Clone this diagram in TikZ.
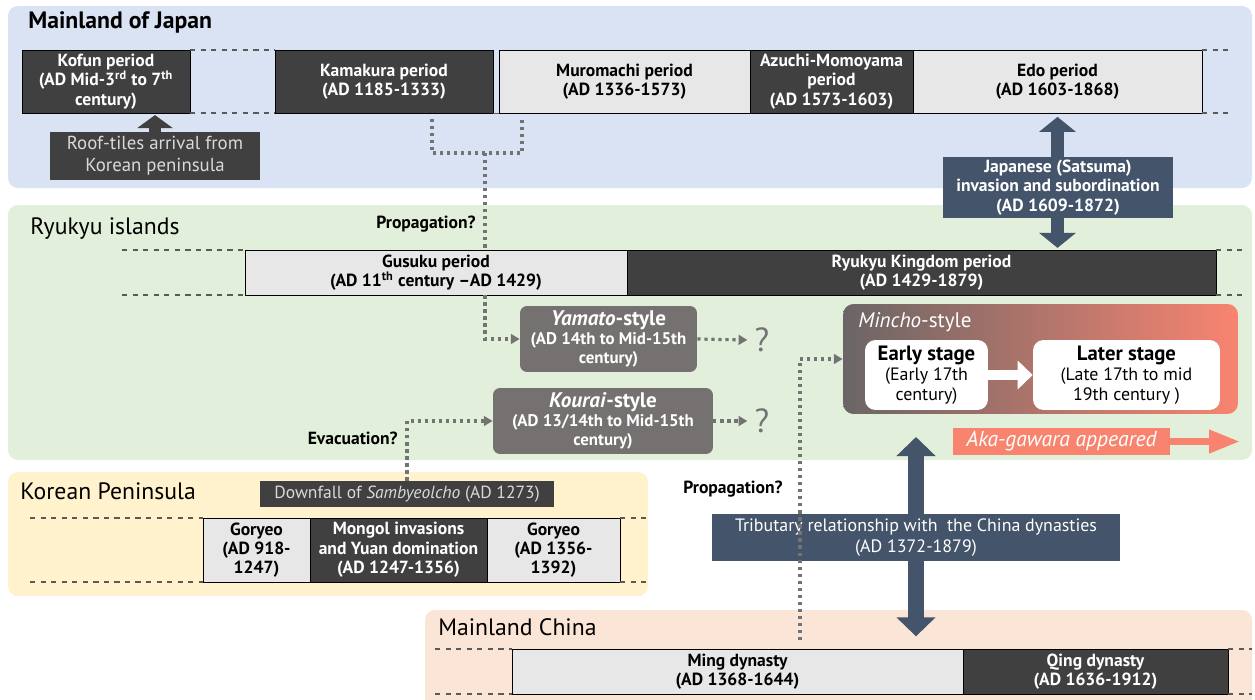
\documentclass[tikz,border=0pt]{standalone}
\usepackage{fontspec}
\setmainfont{PT Sans}
\usetikzlibrary{positioning, arrows.meta, calc}
\definecolor{JapanBg}{RGB}{218,227,243}
\definecolor{RyukyuBg}{RGB}{226,239,218}
\definecolor{KoreaBg}{RGB}{255,242,204}
\definecolor{ChinaBg}{RGB}{251,229,214}
\definecolor{DarkFill}{RGB}{64,64,64}
\definecolor{LightFill}{RGB}{231,231,231}
\definecolor{TileGray}{RGB}{118,113,113}
\definecolor{Salmon}{RGB}{248,132,112}
\definecolor{Navy}{RGB}{68,84,106}
\definecolor{DotGray}{RGB}{115,115,115}
\definecolor{DashGray}{RGB}{90,90,90}

\begin{document}
\begin{tikzpicture}[x=0.02cm,y=-0.02cm,
    span/.style n args={4}{at={({(#1+#3)/2},{(#2+#4)/2})},
      minimum width={(#3-#1)*0.569055pt}, minimum height={(#4-#2)*0.569055pt}},
    panel/.style={rounded corners=0.2cm, draw=none},
    region/.style={anchor=west, inner sep=0pt, font=\fontsize{13.5}{15}\selectfont},
    darkper/.style={draw=black, fill=DarkFill, text=white, align=center, inner sep=0pt,
      font=\bfseries\fontsize{10}{11}\selectfont},
    lightper/.style={darkper, fill=LightFill, text=black},
    notebox/.style={fill=DarkFill, text=black!15, align=center, inner sep=0pt},
    tilebox/.style={rounded corners=4pt, fill=TileGray, text=white, align=center, inner sep=0pt,
      font=\bfseries\fontsize{9.6}{11}\selectfont},
    stagebox/.style={rounded corners=6pt, fill=white, align=center, inner sep=0pt,
      font=\fontsize{10.2}{11.5}\selectfont},
    navybox/.style={fill=Navy, text=white, align=center, inner sep=0pt,
      font=\bfseries\fontsize{10}{11.2}\selectfont},
    guess/.style={inner sep=0pt, font=\bfseries\fontsize{10}{12}\selectfont},
    qmark/.style={inner sep=0pt, text=DotGray, font=\fontsize{19}{21}\selectfont},
    dashline/.style={DashGray, dashed, line width=0.7pt},
    dotline/.style={DotGray, line width=1.8pt, dash pattern=on 1.8pt off 2.2pt},
    dotarrow/.style={dotline, -{Triangle[length=5pt,width=5.5pt]}},
  ]
  \useasboundingbox (0,0) rectangle (1255,700);

  % region panels
  \fill[panel, JapanBg] (8,6) rectangle (1252,188);
  \fill[panel, RyukyuBg] (8,205) rectangle (1252,460);
  \fill[panel, KoreaBg] (8,472) rectangle (648,596);
  \fill[panel, ChinaBg] (425,610) rectangle (1252,715);

  \node[region, font=\bfseries\fontsize{13.5}{15}\selectfont] (jtitle) at (28,22) {Mainland of Japan};
  \node[region] (rtitle) at (30,229) {Ryukyu islands};
  \node[region] (ktitle) at (20,491) {Korean Peninsula};
  \node[region] (ctitle) at (438,627) {Mainland China};

  % Japan timeline
  \node[darkper, span={22}{50}{190}{113}] (kof) {Kofun period\\(AD Mid-3\textsuperscript{rd} to 7\textsuperscript{th}\\century)};
  \node[darkper, span={275}{50}{493}{113}] (kam) {Kamakura period\\(AD 1185-1333)};
  \node[lightper, span={499}{50}{750}{113}] (muro) {Muromachi period\\(AD 1336-1573)};
  \node[darkper, span={750}{50}{913}{113}] (azu) {Azuchi-Momoyama\\period\\(AD 1573-1603)};
  \node[lightper, span={913}{50}{1202}{113}] (edo) {Edo period\\(AD 1603-1868)};
  \foreach \y in {50,113} {
    \draw[dashline] (190,\y) -- (275,\y);
    \draw[dashline] (1202,\y) -- (1232,\y);
  }
  \draw[dashline] (kam.south east) -- (muro.south west);

  \node[notebox, span={50}{132}{260}{180}, font=\fontsize{10.7}{12.5}\selectfont] (roof) {Roof-tiles arrival from\\Korean peninsula};
  \draw[DarkFill, line width=7pt, -{Triangle[width=0.7cm,length=0.26cm]}] (roof.north) -- ([yshift=-1pt]roof.north |- kof.south);

  % Ryukyu timeline
  \node[lightper, span={245}{250}{627}{295}] (gus) {Gusuku period\\(AD 11\textsuperscript{th} century --AD 1429)};
  \node[darkper, span={627}{250}{1216}{295}] (ryk) {Ryukyu Kingdom period\\(AD 1429-1879)};
  \foreach \y in {250,295} {
    \draw[dashline] (122,\y) -- (245,\y);
    \draw[dashline] (1216,\y) -- (1246,\y);
  }

  \node[tilebox, span={520}{306}{697}{372}] (yam) {{\fontsize{12}{13}\selectfont\textit{Yamato}-style}\\(AD 14th to Mid-15th\\century)};
  \node[tilebox, span={493}{388}{713}{454}] (kou) {{\fontsize{12}{13}\selectfont\textit{Kourai}-style}\\(AD 13/14th to Mid-15th\\century)};
  \node[qmark] (q1) at (762,340) {?};
  \node[qmark] (q2) at (762,421) {?};
  \draw[dotarrow] (yam.east) -- ([xshift=-4pt]q1.west);
  \draw[dotarrow] (kou.east) -- ([xshift=-4pt]q2.west);

  % Mincho-style
  \node[rounded corners=6pt, left color=TileGray!90!black, right color=Salmon, span={843}{304}{1238}{414}, inner sep=0pt] (minch) {};
  \node[anchor=west, inner sep=0pt, text=white, font=\fontsize{12}{14}\selectfont] (mtitle) at (858,322) {\textit{Mincho}-style};
  \node[stagebox, span={865}{340}{988}{410}] (early) {{\bfseries\fontsize{11.8}{14}\selectfont Early stage}\\(Early 17th\\century)};
  \node[stagebox, span={1033}{340}{1220}{410}] (later) {{\bfseries\fontsize{11.8}{14}\selectfont Later stage}\\(Late 17th to mid\\19th century )};
  \draw[white, line width=5.5pt, -{Triangle[width=0.56cm,length=0.3cm]}] (early.east) -- (later.west);

  \node[fill=Salmon, text=white, inner sep=0pt, span={953}{428}{1170}{455}, font=\itshape\fontsize{12.3}{14}\selectfont] (aka) {Aka-gawara appeared};
  \coordinate (akaend) at (1240,441.5);
  \draw[Salmon, line width=4pt, -{Triangle[width=0.44cm,length=0.62cm]}] (aka.east) -- (akaend);

  % Japanese invasion
  \draw[Navy, line width=7pt, {Triangle[width=0.72cm,length=0.3cm]}-{Triangle[width=0.72cm,length=0.3cm]}]
    ([yshift=-2pt]edo.south) -- ([yshift=1pt]edo.south |- ryk.north);
  \node[navybox, span={943}{157}{1173}{218}] (sats) {Japanese (Satsuma)\\invasion and subordination\\(AD 1609-1872)};

  % Korea timeline
  \node[notebox, span={260}{481}{554}{507}, font=\fontsize{10}{12}\selectfont] (down) {Downfall of \textit{Sambyeolcho} (AD 1273)};
  \node[lightper, span={203}{518}{310}{582}] (gor1) {Goryeo\\(AD 918-\\1247)};
  \node[darkper, span={310}{518}{487}{582}] (mon) {Mongol invasions\\and Yuan domination\\(AD 1247-1356)};
  \node[lightper, span={487}{518}{620}{582}] (gor2) {Goryeo\\(AD 1356-\\1392)};
  \foreach \y in {518,582} {
    \draw[dashline] (30,\y) -- (203,\y);
    \draw[dashline] (620,\y) -- (646,\y);
  }

  % China timeline
  \node[lightper, span={512}{649}{963}{694}] (ming) {Ming dynasty\\(AD 1368-1644)};
  \node[darkper, span={963}{649}{1228}{694}] (qing) {Qing dynasty\\(AD 1636-1912)};
  \foreach \y in {649,694} {
    \draw[dashline] (435,\y) -- (512,\y);
    \draw[dashline] (1228,\y) -- (1252,\y);
  }

  % tributary relationship
  \coordinate (tt) at (916,437);
  \draw[Navy, line width=9.5pt, {Triangle[width=0.76cm,length=0.38cm]}-{Triangle[width=0.76cm,length=0.38cm]}]
    (tt) -- ([yshift=7pt]ming.north -| tt);
  \node[navybox, span={712}{514}{1120}{561}, font=\fontsize{10.2}{11.5}\selectfont] (trib) {Tributary relationship with\ \ the China dynasties\\(AD 1372-1879)};

  % propagation and evacuation routes
  \coordinate (kj) at (432,153);
  \coordinate (mj) at (522,153);
  \coordinate (pj) at (485,153);
  \draw[dotline] ([yshift=-3pt]kam.south -| kj) -- (kj) -- (mj) -- ([yshift=-3pt]muro.south -| mj);
  \draw[dotline] (pj) -- (gus.north -| pj);
  \draw[dotarrow] (gus.south -| pj) |- (yam.west);
  \node[guess, anchor=east] (prop1) at (476,224) {Propagation?};

  \draw[dotarrow] (down.north) |- (kou.west);
  \node[guess, anchor=east] (evac) at (398,438) {Evacuation?};

  \coordinate (pc) at (800,640);
  \draw[dotarrow] (pc) |- (minch.west);
  \node[guess, anchor=east] (prop2) at (783,489) {Propagation?};
\end{tikzpicture}
\end{document}
